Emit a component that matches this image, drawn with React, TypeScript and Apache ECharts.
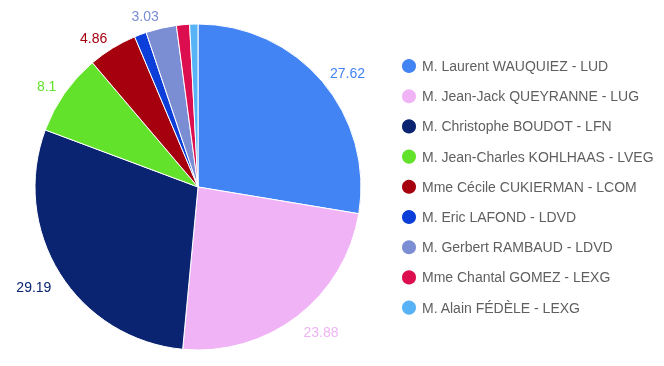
import React, { useEffect, useRef } from "react";
import * as echarts from "echarts";

const candidates = [
  "M. Laurent WAUQUIEZ - LUD",
  "M. Jean-Jack QUEYRANNE - LUG",
  "M. Christophe BOUDOT - LFN",
  "M. Jean-Charles KOHLHAAS - LVEG",
  "Mme Cécile CUKIERMAN - LCOM",
  "M. Eric LAFOND - LDVD",
  "M. Gerbert RAMBAUD - LDVD",
  "Mme Chantal GOMEZ - LEXG",
  "M. Alain FÉDÈLE - LEXG",
];
const values = [27.62, 23.88, 29.19, 8.1, 4.86, 1.2, 3.03, 1.3, 0.82];
const colors = [
  "#4284f3",
  "#f0b4f6",
  "#0a2472",
  "#63e22b",
  "#a6000f",
  "#0c3ed9",
  "#7b8dd3",
  "#dc0e4f",
  "#58b3f6",
];

const GAP = 10;

export default function App() {
  const ref = useRef<HTMLDivElement>(null);
  useEffect(() => {
    document.body.style.margin = "0";
    const chart = echarts.init(ref.current!, null, { renderer: "svg" });
    chart.setOption({
      animation: false,
      textStyle: { fontFamily: "'Liberation Sans', Arial, sans-serif" },
      legend: {
        orient: "vertical",
        left: 395,
        top: 52,
        icon: "circle",
        itemWidth: 16,
        itemHeight: 16,
        itemGap: 12.2,
        textStyle: { fontSize: 14, color: "#5f5f5f" },
        data: candidates,
      },
      series: [
        {
          type: "pie",
          center: [198, 187],
          radius: 163,
          startAngle: 90,
          clockwise: true,
          minShowLabelAngle: 6,
          avoidLabelOverlap: false,
          itemStyle: { borderColor: "#ffffff", borderWidth: 1 },
          label: {
            show: true,
            position: "outside",
            fontSize: 14,
            color: "inherit",
            formatter: (p: any) => String(p.value),
          },
          labelLine: {
            show: true,
            length: 10,
            length2: 0,
            lineStyle: { opacity: 0, width: 0 },
          },
          labelLayout: (p: any) => {
            const pts = p.labelLinePoints;
            if (!pts || pts.length < 2) return {};
            const a = pts[0];
            const b = pts[1];
            const vx = b[0] - a[0];
            const vy = b[1] - a[1];
            const len = Math.hypot(vx, vy) || 1;
            const ux = vx / len;
            const uy = vy / len;
            const x = a[0] + ux * GAP;
            const y = a[1] + uy * GAP;
            const w = p.labelRect.width;
            return {
              x: ux >= 0 ? x : x - w,
              y: uy >= 0 ? y + 1 : y - 9,
              align: "left",
              verticalAlign: "top",
            };
          },
          data: candidates.map((name, i) => ({
            name,
            value: values[i],
            itemStyle: { color: colors[i] },
            label: { color: colors[i] },
          })),
        },
      ],
    });
    return () => chart.dispose();
  }, []);
  return (
    <div
      ref={ref}
      style={{ position: "fixed", left: 0, top: 0, width: 664, height: 366 }}
    />
  );
}
